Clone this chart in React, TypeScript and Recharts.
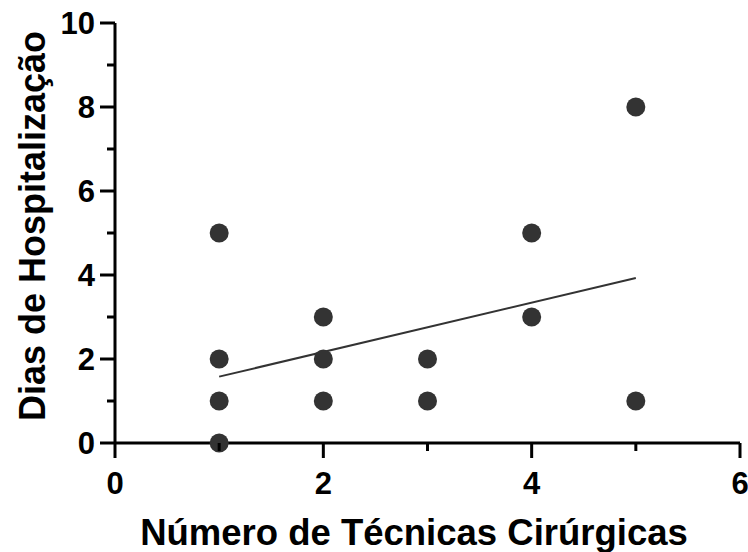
import { ScatterChart, Scatter, XAxis, YAxis, Label } from "recharts";

// Hospital stay vs. number of surgical techniques
const tecnicas = [1, 1, 1, 1, 2, 2, 2, 3, 3, 4, 4, 5, 5];
const dias = [5, 2, 1, 0, 3, 2, 1, 2, 1, 5, 3, 8, 1];

// linear fit, endpoints read at x = 1 and x = 5
const fitX = [1, 5];
const fitY = [1.58, 3.93];

const xTicks = [0, 1, 2, 3, 4, 5, 6];
const yTicks = [0, 1, 2, 3, 4, 5, 6, 7, 8, 9, 10];

const points = tecnicas.map((x, i) => ({ x, y: dias[i] }));
const fitLine = fitX.map((x, i) => ({ x, y: fitY[i] }));

const FONT = "'Liberation Sans', Arial, sans-serif";
const INK = "#333333";

function XTick({ x, y, payload }: any) {
  const major = payload.value % 2 === 0;
  return (
    <g>
      <line x1={x} x2={x} y1={y} y2={y + (major ? 15 : 8)} stroke="#000" strokeWidth={3} />
      {major && (
        <text
          x={x}
          y={y + 40}
          textAnchor="middle"
          dominantBaseline="central"
          fontFamily={FONT}
          fontWeight="bold"
          fontSize={31}
          fill="#000"
        >
          {payload.value}
        </text>
      )}
    </g>
  );
}

function YTick({ x, y, payload }: any) {
  const major = payload.value % 2 === 0;
  return (
    <g>
      <line x1={x - (major ? 15 : 8)} x2={x} y1={y} y2={y} stroke="#000" strokeWidth={3} />
      {major && (
        <text
          x={x - 20}
          y={y}
          textAnchor="end"
          dominantBaseline="central"
          fontFamily={FONT}
          fontWeight="bold"
          fontSize={31}
          fill="#000"
        >
          {payload.value}
        </text>
      )}
    </g>
  );
}

const Dot = (props: any) => <circle cx={props.cx} cy={props.cy} r={9.5} fill={INK} />;

export default function App() {
  return (
    <div style={{ position: "absolute", left: 0, top: 0, background: "#fff" }}>
      <ScatterChart width={748} height={552} margin={{ top: 23, right: 8, left: 0, bottom: 0 }}>
        <XAxis
          type="number"
          dataKey="x"
          domain={[0, 6]}
          ticks={xTicks}
          interval={0}
          height={109}
          tickSize={0}
          tickMargin={0}
          tickLine={false}
          axisLine={{ stroke: "#000", strokeWidth: 3 }}
          tick={<XTick />}
        >
          <Label
            content={() => (
              <text
                x={414}
                y={545}
                textAnchor="middle"
                fontFamily={FONT}
                fontWeight="bold"
                fontSize={36.5}
                fill="#000"
              >
                Número de Técnicas Cirúrgicas
              </text>
            )}
          />
        </XAxis>
        <YAxis
          type="number"
          dataKey="y"
          domain={[0, 10]}
          ticks={yTicks}
          interval={0}
          width={115}
          tickSize={0}
          tickMargin={0}
          tickLine={false}
          axisLine={{ stroke: "#000", strokeWidth: 3 }}
          tick={<YTick />}
        >
          <Label
            content={() => (
              <text
                transform="translate(45, 226) rotate(-90)"
                textAnchor="middle"
                fontFamily={FONT}
                fontWeight="bold"
                fontSize={36}
                fill="#000"
              >
                Dias de Hospitalização
              </text>
            )}
          />
        </YAxis>
        <Scatter
          data={fitLine}
          line={{ stroke: INK, strokeWidth: 2 }}
          shape={() => <g />}
          isAnimationActive={false}
        />
        <Scatter data={points} shape={<Dot />} isAnimationActive={false} />
      </ScatterChart>
    </div>
  );
}
